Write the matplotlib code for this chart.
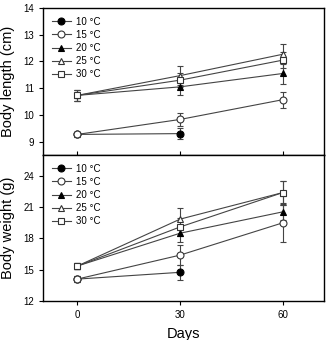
import matplotlib
matplotlib.use('Agg')
import matplotlib.pyplot as plt
from matplotlib.lines import Line2D

plt.rcParams['font.family'] = ['Liberation Sans', 'DejaVu Sans']

days = [0, 30, 60]
labels = ['10 °C', '15 °C', '20 °C', '25 °C', '30 °C']

# Body length (cm)
len_10 = [9.27, 9.30]
len_15 = [9.27, 9.83, 10.57]
len_20 = [10.73, 11.05, 11.55]
len_25 = [10.73, 11.47, 12.27]
len_30 = [10.73, 11.30, 12.05]
len_10_err = [0.1, 0.22]
len_15_err = [0.1, 0.25, 0.30]
len_20_err = [0.2, 0.30, 0.38]
len_25_err = [0.2, 0.35, 0.37]
len_30_err = [0.22, 0.25, 0.30]

# Body weight (g)
wt_10 = [14.1, 14.75]
wt_15 = [14.1, 16.4, 19.5]
wt_20 = [15.35, 18.5, 20.55]
wt_25 = [15.35, 19.85, 22.4]
wt_30 = [15.35, 19.1, 22.4]
wt_10_err = [0.25, 0.75]
wt_15_err = [0.3, 0.95, 1.8]
wt_20_err = [0.3, 0.8, 0.8]
wt_25_err = [0.3, 1.05, 1.15]
wt_30_err = [0.3, 0.9, 1.15]

styles = [
    dict(marker='o', mfc='black', mec='black'),
    dict(marker='o', mfc='white', mec='#333333'),
    dict(marker='^', mfc='black', mec='black'),
    dict(marker='^', mfc='white', mec='#333333'),
    dict(marker='s', mfc='white', mec='#333333'),
]

fig = plt.figure(figsize=(3.28, 3.40), dpi=100)
ax1 = fig.add_axes([43 / 328, 1 - 155 / 340, 281 / 328, 147 / 340])
ax2 = fig.add_axes([43 / 328, 1 - 301 / 340, 281 / 328, 146 / 340])


def draw(ax, series, errs):
    handles = []
    for vals, err, lab, st in zip(series, errs, labels, styles):
        x = days[:len(vals)]
        ax.errorbar(x, vals, yerr=err, color='#444444', lw=0.8, elinewidth=0.8,
                    capsize=2.5, capthick=0.8, ms=5, mew=0.8, **st)
        handles.append(Line2D([], [], color='#444444', lw=0.8, ms=5, mew=0.8,
                              label=lab, **st))
    ax.legend(handles=handles, loc='upper left', frameon=False, fontsize=7,
              handlelength=2.0, handletextpad=0.5, labelspacing=0.32,
              borderaxespad=0.4, borderpad=0.5)
    ax.set_xlim(-10, 72)
    ax.set_xticks(days)
    ax.tick_params(labelsize=7, length=3, width=0.8)
    for s in ax.spines.values():
        s.set_linewidth(1.0)


draw(ax1, [len_10, len_15, len_20, len_25, len_30],
     [len_10_err, len_15_err, len_20_err, len_25_err, len_30_err])
ax1.set_ylim(8.5, 14)
ax1.set_yticks([9, 10, 11, 12, 13, 14])
ax1.tick_params(axis='x', direction='in', labelbottom=False)
ax1.set_ylabel('Body length (cm)', fontsize=10.5, labelpad=6)

draw(ax2, [wt_10, wt_15, wt_20, wt_25, wt_30],
     [wt_10_err, wt_15_err, wt_20_err, wt_25_err, wt_30_err])
ax2.set_ylim(12, 26)
ax2.set_yticks([12, 15, 18, 21, 24])
ax2.set_ylabel('Body weight (g)', fontsize=10.5, labelpad=6)
ax2.set_xlabel('Days', fontsize=10.5, labelpad=5)

fig.savefig('out.png', dpi=100)
